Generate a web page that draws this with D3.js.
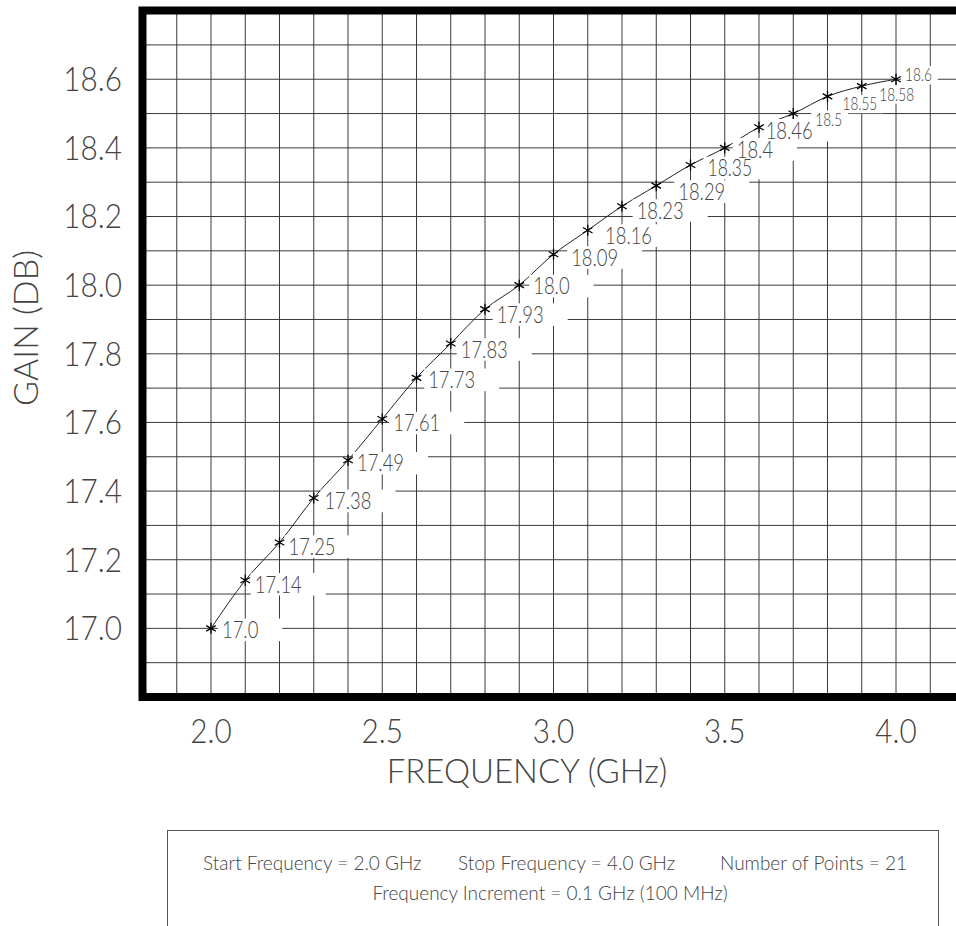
<!DOCTYPE html>
<html>
<head>
<meta charset="utf-8">
<script src="https://cdn.jsdelivr.net/npm/d3@7/dist/d3.min.js"></script>
<style>
  html, body { margin: 0; padding: 0; background: #fff; }
  svg { display: block; }
  text { font-family: "Lato", "Open Sans", "Roboto", sans-serif; font-weight: 300; fill: #444; }
</style>
</head>
<body>
<div id="chart"></div>
<script>
// ---- data ----
const frequencies = [2.0, 2.1, 2.2, 2.3, 2.4, 2.5, 2.6, 2.7, 2.8, 2.9, 3.0,
                     3.1, 3.2, 3.3, 3.4, 3.5, 3.6, 3.7, 3.8, 3.9, 4.0];
const gains = [17.0, 17.14, 17.25, 17.38, 17.49, 17.61, 17.73, 17.83, 17.93, 18.0,
               18.09, 18.16, 18.23, 18.29, 18.35, 18.4, 18.46, 18.5, 18.55, 18.58, 18.6];
const gainLabels = ["17.0", "17.14", "17.25", "17.38", "17.49", "17.61", "17.73", "17.83",
                    "17.93", "18.0", "18.09", "18.16", "18.23", "18.29", "18.35", "18.4",
                    "18.46", "18.5", "18.55", "18.58", "18.6"];
const yTickValues = [17.0, 17.2, 17.4, 17.6, 17.8, 18.0, 18.2, 18.4, 18.6];
const yTickLabels = ["17.0", "17.2", "17.4", "17.6", "17.8", "18.0", "18.2", "18.4", "18.6"];
const xTickValues = [2.0, 2.5, 3.0, 3.5, 4.0];
const xTickLabels = ["2.0", "2.5", "3.0", "3.5", "4.0"];
const xGridValues = [1.9, 2.0, 2.1, 2.2, 2.3, 2.4, 2.5, 2.6, 2.7, 2.8, 2.9, 3.0,
                     3.1, 3.2, 3.3, 3.4, 3.5, 3.6, 3.7, 3.8, 3.9, 4.0, 4.1];
const yGridValues = [16.9, 17.0, 17.1, 17.2, 17.3, 17.4, 17.5, 17.6, 17.7, 17.8, 17.9,
                     18.0, 18.1, 18.2, 18.3, 18.4, 18.5, 18.6, 18.7];
const xTitle = "FREQUENCY (GHz)";
const yTitle = "GAIN (DB)";
const infoLine1 = ["Start Frequency = 2.0 GHz", "Stop Frequency = 4.0 GHz", "Number of Points = 21"];
const infoLine2 = "Frequency Increment = 0.1 GHz (100 MHz)";

// ---- layout (label nudges in px, relative to each point) ----
const labelDx = [11, 9.5, 9, 10.7, 9, 11, 11.7, 10, 11.7, 14, 17.7, 17.3, 14.7, 22, 17, 12, 6.7, 22, 15, 17.6, 9];
const labelDy = [1.5, 4, 4, 3, 3, 4, 2, 6, 5.5, 1, 3.3, 5.3, 4.3, 6, 3, 1.5, 3, 6, 7.7, 8.5, -4];
const smallFrom = 17;

const W = 956, H = 926;
const svg = d3.select("#chart").append("svg").attr("width", W).attr("height", H);
svg.append("rect").attr("width", W).attr("height", H).attr("fill", "#fff");

// narrow the glyphs a bit, like the plotter stroke font of the original
function squeeze(sel, k) {
  sel.each(function () {
    const len = this.getComputedTextLength();
    d3.select(this).attr("textLength", len * k).attr("lengthAdjust", "spacingAndGlyphs");
  });
  return sel;
}

const x = d3.scaleLinear().domain([1.8, 4.2]).range([142.5, 964.5]);
const y = d3.scaleLinear().domain([16.8, 18.8]).range([697, 10.6]);

// grid
const grid = svg.append("g");
grid.selectAll("line.v").data(xGridValues).enter().append("line")
  .attr("x1", d => x(d)).attr("x2", d => x(d))
  .attr("y1", y(18.8)).attr("y2", y(16.8))
  .attr("stroke", "#3a3a3a").attr("stroke-width", 1);
grid.selectAll("line.h").data(yGridValues).enter().append("line")
  .attr("x1", x(1.8)).attr("x2", x(4.2))
  .attr("y1", d => y(d)).attr("y2", d => y(d))
  .attr("stroke", "#3a3a3a").attr("stroke-width", 1);

// curve
const pts = frequencies.map((f, i) => [f, gains[i]]);
svg.append("path").datum(pts)
  .attr("d", d3.line().x(d => x(d[0])).y(d => y(d[1])).curve(d3.curveMonotoneX))
  .attr("fill", "none").attr("stroke", "#222").attr("stroke-width", 1);

// labels with white background boxes (boxes first, then all texts)
const bigF = 23, smallF = 17;
const boxLayer = svg.append("g");
const textLayer = svg.append("g");
pts.forEach((p, i) => {
  const small = i >= smallFrom;
  const fs = small ? smallF : bigF;
  const k = (i === 14) ? 0.76 : 0.8;
  const px = x(p[0]) + labelDx[i];
  const cy = y(p[1]) + labelDy[i];
  const t = textLayer.append("text")
    .attr("x", px).attr("y", cy + 0.36 * fs)
    .attr("font-size", fs).text(gainLabels[i]);
  const w = t.node().getComputedTextLength() * k;
  squeeze(t, k);
  const capH = 0.72 * fs;
  boxLayer.append("rect").attr("fill", "#fff")
    .attr("x", px - 4).attr("y", cy - capH / 2 - 3)
    .attr("width", w + (small ? 10 : 28)).attr("height", capH + 6);
});

// markers (asterisks)
const r = 5.5;
svg.append("g").selectAll("path").data(pts).enter().append("path")
  .attr("transform", d => `translate(${x(d[0])},${y(d[1])})`)
  .attr("d", () => {
    let s = "";
    [90, 30, 150].forEach(a => {
      const rad = a * Math.PI / 180;
      const dx = r * Math.cos(rad), dy = r * Math.sin(rad);
      s += `M${-dx},${-dy}L${dx},${dy}`;
    });
    return s;
  })
  .attr("stroke", "#000").attr("stroke-width", 1.3).attr("fill", "none");

// frame (left, top, bottom; right runs off the page)
svg.append("path")
  .attr("d", `M${x(4.2)},${y(18.8)}L${x(1.8)},${y(18.8)}L${x(1.8)},${y(16.8)}L${x(4.2)},${y(16.8)}`)
  .attr("fill", "none").attr("stroke", "#000").attr("stroke-width", 8);

// tick labels
const tickF = 33;
squeeze(svg.append("g").selectAll("text").data(yTickValues).enter().append("text")
  .attr("x", 122).attr("y", d => y(d) + 0.36 * tickF)
  .attr("text-anchor", "end").attr("font-size", tickF)
  .text((d, i) => yTickLabels[i]), 0.9);
squeeze(svg.append("g").selectAll("text").data(xTickValues).enter().append("text")
  .attr("x", d => x(d)).attr("y", 731 + 0.36 * tickF)
  .attr("text-anchor", "middle").attr("font-size", tickF)
  .text((d, i) => xTickLabels[i]), 0.9);

// axis titles
const titleF = 34;
squeeze(svg.append("text").attr("x", 527).attr("y", 771 + 0.36 * titleF)
  .attr("text-anchor", "middle").attr("font-size", titleF).text(xTitle), 0.97);
svg.append("text")
  .attr("transform", `translate(${26 + 0.36 * titleF},328) rotate(-90)`)
  .attr("text-anchor", "middle").attr("font-size", titleF).text(yTitle);

// info box
svg.append("rect").attr("x", 167.5).attr("y", 830.5).attr("width", 771).attr("height", 120)
  .attr("fill", "none").attr("stroke", "#555").attr("stroke-width", 1);
const infoF = 19;
const infoX = [203, 458, 907];
const infoAnchor = ["start", "start", "end"];
svg.append("g").selectAll("text").data(infoLine1).enter().append("text")
  .attr("x", (d, i) => infoX[i]).attr("y", 863 + 0.36 * infoF)
  .attr("text-anchor", (d, i) => infoAnchor[i]).attr("font-size", infoF)
  .text(d => d);
svg.append("text").attr("x", 550).attr("y", 893 + 0.36 * infoF)
  .attr("text-anchor", "middle").attr("font-size", infoF).text(infoLine2);
</script>
</body>
</html>
